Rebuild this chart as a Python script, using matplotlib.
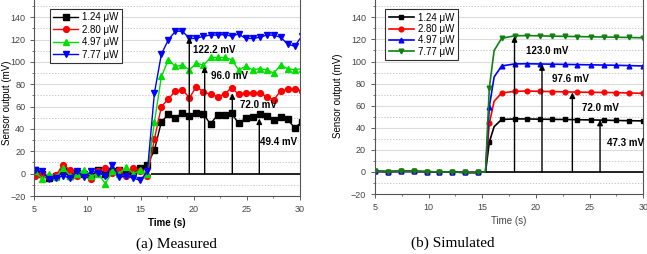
import numpy as np
import matplotlib
matplotlib.use("Agg")
import matplotlib.pyplot as plt
from matplotlib.ticker import MultipleLocator

plt.rcParams['font.family'] = ['Liberation Sans', 'DejaVu Sans']

# ---- measured data ----
meas_t = [5.08, 5.74, 6.40, 7.06, 7.72, 8.38, 9.04, 9.70, 10.36, 11.02, 11.68, 12.34,
          13.00, 13.66, 14.32, 14.98, 15.64, 16.30, 16.96, 17.62, 18.28, 18.94, 19.60,
          20.26, 20.92, 21.58, 22.24, 22.90, 23.56, 24.22, 24.88, 25.54, 26.20, 26.86,
          27.52, 28.18, 28.84, 29.50, 30.16]
meas_124 = [3, 0, -4, -2, 2, -2, 1, 0, -2, 3, 0, 2, 3, 1, 2, 5, 8,
            21, 46.5, 53, 50, 54.5, 51.5, 54, 53, 44.5, 52.5, 52.5, 54, 45, 49.5,
            50.5, 53.5, 51.5, 48, 50.5, 48.5, 41, 46]
meas_280 = [-2, 0, -3, -1, 8, 3, -2, 0, -5, 2, 5, 1, 3, -2, 5, 2, -2,
            31, 60, 67, 74, 75, 68, 78, 73, 71, 69, 71, 77, 71, 72.5,
            72.5, 72, 69, 66, 74, 75.5, 75.5, 74]
meas_497 = [2, -5, 0, -3, 5, -2, 0, 3, -2, 0, -9, 2, 0, 6, 0, 3, 0,
            46, 87, 102, 96, 97, 93, 99, 97, 104, 104, 104, 102, 93, 96,
            93, 94, 93, 90, 97, 94, 93, 94]
meas_777 = [3, 2, -5, -4, -2, -4, 2, -3, 2, 1, -2, 8, -3, -2, -4, -6, 2,
            72, 107, 120, 127.5, 127.5, 121, 121, 123, 124, 124, 124.5, 123, 125, 121,
            121, 122, 124, 124, 122, 116, 114, 123]
meas_arrow_x = [19.58, 21.03, 23.63, 26.17]
meas_arrow_val = [122.2, 96.0, 72.0, 49.4]

# ---- simulated data ----
sim_t = [5.0, 6.2, 7.4, 8.6, 9.8, 11.0, 12.2, 13.4, 14.6, 15.3, 15.65, 16.1, 16.8,
         18.0, 19.15, 20.35, 21.5, 22.7, 23.85, 25.1, 26.3, 27.5, 28.7, 29.95]
sim_124 = [0.5, 0.3, 0.5, 0.5, 0.2, 0, 0, -0.5, -0.5, 0, 27, 41, 47.5,
           48, 48, 47.8, 47.6, 47.5, 47.3, 47.1, 46.9, 46.6, 46.4, 46.2]
sim_280 = [0.5, 0.3, 0.5, 0.5, 0.2, 0, 0, -0.5, -0.5, 0, 44, 64, 71.5,
           73, 73.3, 73, 72.8, 72.5, 72.3, 72.1, 72, 71.8, 71.5, 71.2]
sim_497 = [0.5, 0.3, 0.5, 0.5, 0.2, 0, 0, -0.5, -0.5, 0, 59, 86, 96,
           97.8, 98, 97.8, 97.6, 97.4, 97.2, 97, 96.8, 96.6, 96.3, 96]
sim_777 = [0.5, 0.3, 0.5, 0.5, 0.2, 0, 0, -0.5, -0.5, 0, 76, 110, 121,
           123.3, 123.5, 123.3, 123, 122.8, 122.6, 122.4, 122.2, 122, 121.8, 121.5]
sim_arrow_x = [18.0, 20.56, 23.39, 25.97]
sim_arrow_val = [123.0, 97.6, 72.0, 47.3]

labels = ['1.24 \u03bcW', '2.80 \u03bcW', '4.97 \u03bcW', '7.77 \u03bcW']

# label positions (left edge, vertical centre) in data coords
meas_lab_pos = [(19.9, 110.7), (21.6, 87.4), (24.4, 61.5), (26.2, 28.6)]
sim_lab_pos = [(19.04, 109.7), (21.47, 83.8), (24.33, 58.2), (26.6, 26.6)]


def style_axes(ax):
    ax.set_xlim(5, 30)
    ax.set_ylim(-20, 160)
    ax.xaxis.set_major_locator(MultipleLocator(5))
    ax.xaxis.set_minor_locator(MultipleLocator(2.5))
    ax.yaxis.set_major_locator(MultipleLocator(20))
    ax.yaxis.set_minor_locator(MultipleLocator(10))
    ax.set_yticks(np.arange(-20, 141, 20))
    ax.grid(True, which='major', axis='y', color='#dcdcdc', lw=0.8)
    ax.grid(True, which='minor', axis='y', color='#bbbbbb', lw=0.6, ls=(0, (1.5, 2)))
    ax.set_axisbelow(True)
    ax.tick_params(which='major', direction='out', length=3, width=0.6,
                   labelsize=6.5, labelcolor='#444444', color='#444444')
    ax.tick_params(which='minor', direction='out', length=1.5, width=0.5, color='#444444')
    ax.tick_params(axis='x', which='both', top=False)
    for s in ax.spines.values():
        s.set_color('#555555')
        s.set_linewidth(0.8)


fig = plt.figure(figsize=(6.47, 2.54), dpi=100)

# ---- (a) measured ----
ax1 = fig.add_axes([34.3 / 647, 1 - 196 / 254, 265.7 / 647, 201.1 / 254])
style_axes(ax1)
meas_series = [meas_124, meas_280, meas_497, meas_777]
meas_cols = ['black', 'red', '#00e000', 'blue']
mk = ['s', 'o', '^', 'v']
for vals, c, m, lab in zip(meas_series, meas_cols, mk, labels):
    ax1.plot(meas_t, vals, color=c, marker=m, ms=4.2, lw=1.0, label=lab)
ax1.hlines(0, 16.0, 30, color='black', lw=1.2, zorder=4)
for x, v in zip(meas_arrow_x, meas_arrow_val):
    ax1.annotate('', xy=(x, v), xytext=(x, 0),
                 arrowprops=dict(arrowstyle='-|>', color='black', lw=1.0,
                                 mutation_scale=8, shrinkA=0, shrinkB=0), zorder=5)
for (x, y), v in zip(meas_lab_pos, meas_arrow_val):
    ax1.text(x, y, f'{v:.1f} mV', fontsize=7, fontweight='bold', va='center', ha='left')
ax1.set_xlabel('Time (s)', fontsize=7, fontweight='bold', labelpad=3)
ax1.set_ylabel('Sensor output (mV)', fontsize=7)
ax1.yaxis.set_label_coords(-0.085, 0.463)
leg = ax1.legend(loc='upper left', bbox_to_anchor=(0.04, 0.955), fontsize=7,
                 frameon=True, fancybox=False, edgecolor='#333333', framealpha=1,
                 handlelength=2.6, handletextpad=0.4, labelspacing=0.25, borderpad=0.35)
leg.get_frame().set_linewidth(0.8)

# ---- (b) simulated ----
ax2 = fig.add_axes([375 / 647, 1 - 194 / 254, 268.3 / 647, 198.7 / 254])
style_axes(ax2)
sim_series = [sim_124, sim_280, sim_497, sim_777]
sim_cols = ['black', 'red', 'blue', '#108010']
mark_idx = [i for i, t in enumerate(sim_t) if t not in (15.3, 16.1)]
for vals, c, m, lab in zip(sim_series, sim_cols, mk, labels):
    ax2.plot(sim_t, vals, color=c, marker=m, ms=3.4, lw=1.2, label=lab,
             markevery=mark_idx)
ax2.hlines(0, 15.3, 30, color='black', lw=1.2, zorder=4)
for x, v in zip(sim_arrow_x, sim_arrow_val):
    ax2.annotate('', xy=(x, v), xytext=(x, 0),
                 arrowprops=dict(arrowstyle='-|>', color='black', lw=1.0,
                                 mutation_scale=8, shrinkA=0, shrinkB=0), zorder=5)
for (x, y), v in zip(sim_lab_pos, sim_arrow_val):
    ax2.text(x, y, f'{v:.1f} mV', fontsize=7, fontweight='bold', va='center', ha='left')
ax2.set_xlabel('Time (s)', fontsize=7, color='#444444', labelpad=3)
ax2.set_ylabel('Sensor output (mV)', fontsize=7)
ax2.yaxis.set_label_coords(-0.119, 0.493)
leg2 = ax2.legend(loc='upper left', bbox_to_anchor=(0.02, 0.955), fontsize=7,
                  frameon=True, fancybox=False, edgecolor='#333333', framealpha=1,
                  handlelength=2.6, handletextpad=0.4, labelspacing=0.15, borderpad=0.35)
leg2.get_frame().set_linewidth(0.8)

fig.text(176 / 647, 1 - 244 / 254, '(a) Measured', family='Liberation Serif',
         fontsize=11, ha='center', va='center')
fig.text(453 / 647, 1 - 243 / 254, '(b) Simulated', family='Liberation Serif',
         fontsize=11, ha='center', va='center')

fig.savefig('out.png', dpi=100)
